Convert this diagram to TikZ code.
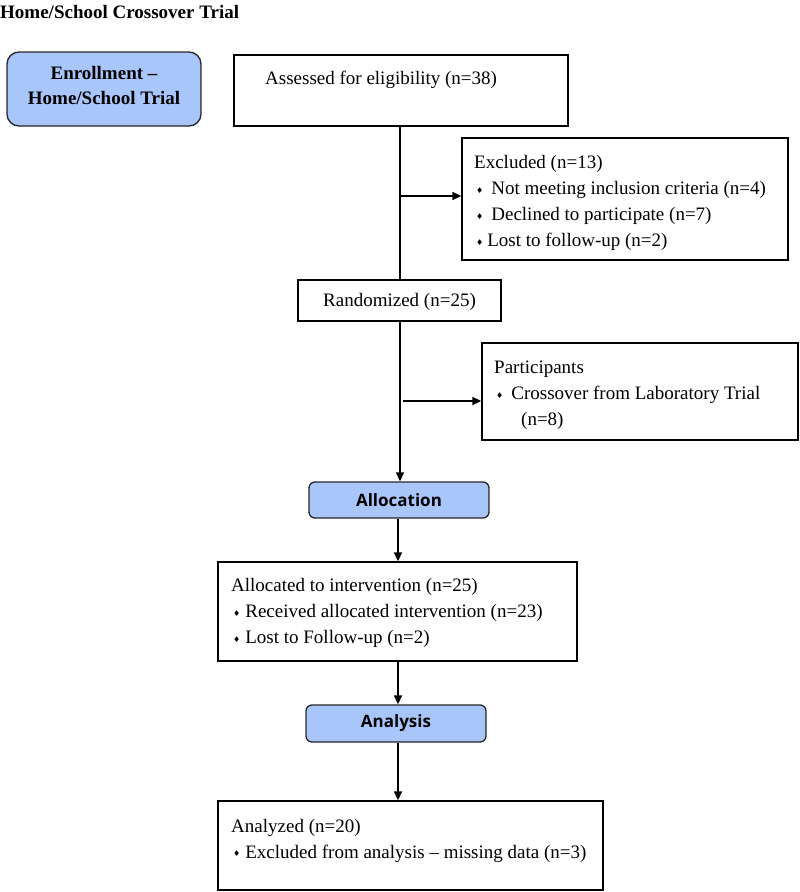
\documentclass[tikz,border=0pt]{standalone}
\usepackage{fontspec}
\setmainfont{Liberation Serif}
\newfontfamily\symf{DejaVu Sans}
\newfontfamily\headf{Open Sans}
\usetikzlibrary{arrows.meta}
\definecolor{bluefill}{RGB}{168,198,250}
\newcommand\bul[1][6pt]{\hspace*{2pt}\raisebox{1.5pt}{\fontsize{8}{8}\selectfont\symf ♦}\hspace*{#1}}
\begin{document}
\begin{tikzpicture}[x=1pt,y=-1pt,
 box/.style={draw=black,line width=1.3pt,inner sep=0pt},
 phase/.style={draw=black!85,line width=1.3pt,fill=bluefill,rounded corners=6pt,inner sep=0pt,
   font=\headf\bfseries\fontsize{17}{20}\selectfont},
 txt/.style={anchor=north west,inner sep=0pt,align=left,font=\fontsize{19}{26}\selectfont},
 arr/.style={line width=1.5pt,-{Triangle[length=9pt,width=8pt]}},
 ln/.style={line width=1.5pt}]
\useasboundingbox (0,0) rectangle (800,892);

% title
\node[txt,font=\bfseries\fontsize{19}{26}\selectfont] (title) at (0,0.3) {\strut Home/School Crossover Trial};

% boxes
\node[phase,rounded corners=12pt,minimum width=194pt,minimum height=74pt] (enroll) at (104,89) {};
\node[anchor=north,inner sep=0pt,align=center,font=\bfseries\fontsize{19}{25}\selectfont] (enrolltxt) at (104,61.3) {\strut Enrollment --\\Home/School Trial};

\node[box,minimum width=334pt,minimum height=71pt] (assess) at (401,90.5) {};
\node[txt] (assesstxt) at (265,66.3) {\strut Assessed for eligibility (n=38)};

\node[box,minimum width=326pt,minimum height=122pt] (excl) at (625,199) {};
\node[txt] (excltxt) at (474,150.3) {\strut Excluded (n=13)\\
\bul[8pt]Not meeting inclusion criteria (n=4)\\
\bul[8pt]Declined to participate (n=7)\\
\bul[4pt]Lost to follow-up (n=2)};

\node[box,minimum width=203pt,minimum height=41pt] (rand) at (399.5,300.5) {};
\node[txt] (randtxt) at (323,288.3) {\strut Randomized (n=25)};

\node[box,minimum width=316pt,minimum height=97pt] (part) at (640,391.5) {};
\node[txt] (parttxt) at (494,355.3) {\strut Participants\\
\bul[8pt]Crossover from Laboratory Trial\\
\hspace*{27pt}(n=8)};

\node[phase,minimum width=180pt,minimum height=36pt] (alloc) at (399,500) {Allocation};

\node[box,minimum width=359pt,minimum height=99pt] (allocd) at (397.5,611.5) {};
\node[txt] (allocdtxt) at (231,573.3) {\strut Allocated to intervention (n=25)\\
\bul[5pt]Received allocated intervention (n=23)\\
\bul[5pt]Lost to Follow-up (n=2)};

\node[phase,minimum width=180pt,minimum height=37pt] (anal) at (396,723.5) {Analysis};

\node[box,minimum width=385pt,minimum height=89pt] (analyzed) at (410.5,845.5) {};
\node[txt] (analyzedtxt) at (231,814) {\strut Analyzed (n=20)\\
\bul[5pt]Excluded from analysis -- missing data (n=3)};

% connectors
\draw[ln] (assess.south -| 400,0) -- (rand.north -| 400,0);
\coordinate (e1) at (400,196);
\draw[arr] (e1) -- (e1 -| excl.west);
\draw[arr] (rand.south -| 400,0) -- (alloc.north -| 400,0);
\coordinate (p1) at (403,401);
\draw[arr] (p1) -- (p1 -| part.west);
\draw[arr] (alloc.south -| 398,0) -- (allocd.north -| 398,0);
\draw[arr] (allocd.south -| 398,0) -- (anal.north -| 398,0);
\draw[arr] (anal.south -| 398,0) -- (analyzed.north -| 398,0);
\end{tikzpicture}
\end{document}
